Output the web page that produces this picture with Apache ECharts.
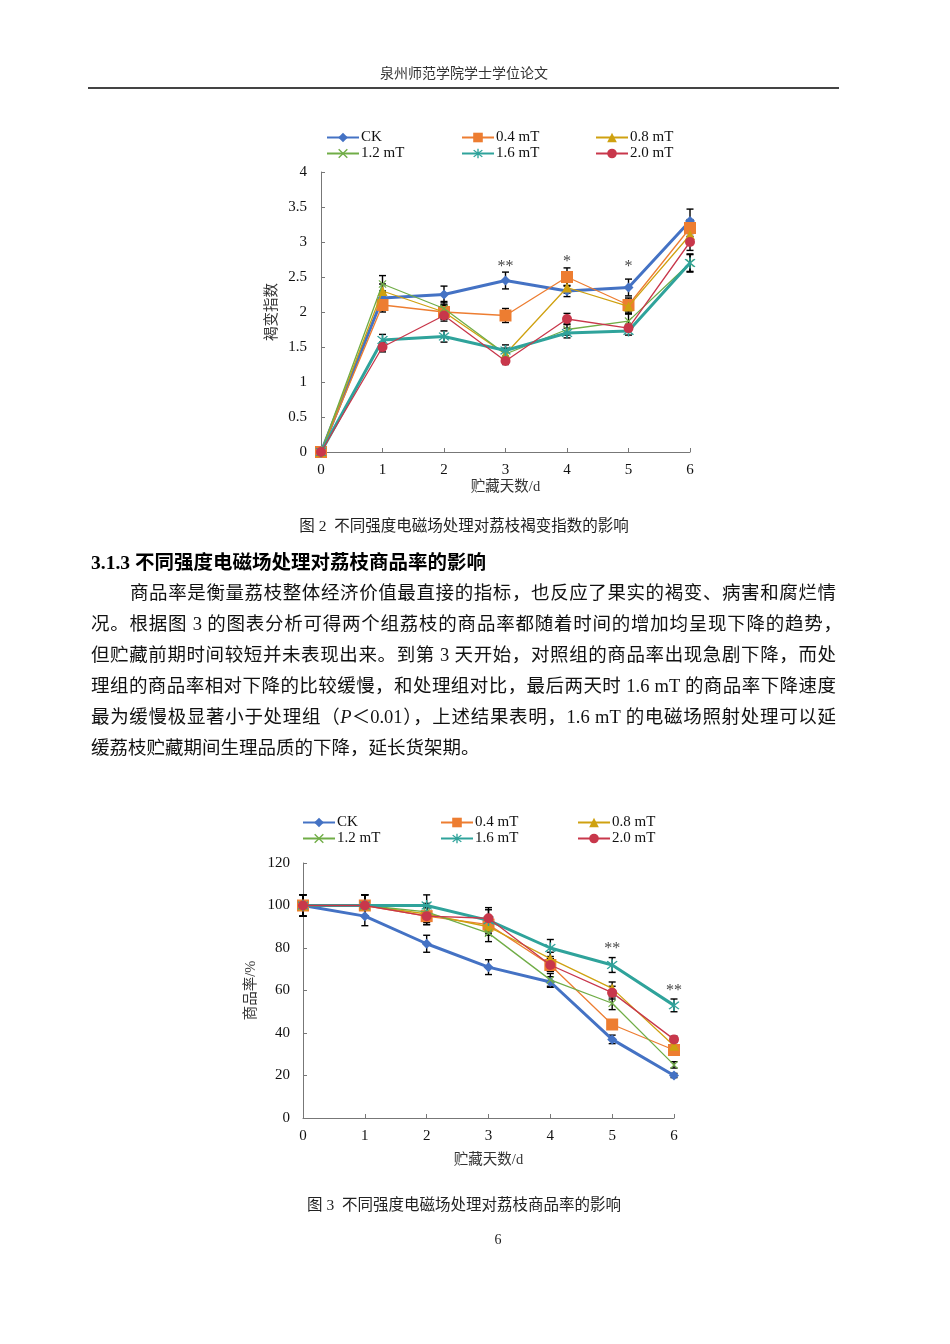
<!DOCTYPE html>
<html>
<head>
<meta charset="utf-8">
<script src="https://cdn.jsdelivr.net/npm/echarts@6/dist/echarts.min.js"></script>
<style>
  html, body { margin:0; padding:0; background:#fff; }
  #page { position:relative; width:950px; height:1344px; overflow:hidden; background:#fff;
          font-family:"Liberation Serif","Noto Sans CJK SC",serif; color:#111; }
  #chart { position:absolute; left:0; top:0; width:950px; height:1344px; }
  .t { position:absolute; white-space:nowrap; }
  .para { position:absolute; left:91px; width:745px; font-size:18.5px; line-height:31px; height:31px;
          text-align:justify; text-align-last:justify; white-space:nowrap; color:#111; }
  .cap { position:absolute; left:0; width:928px; text-align:center; font-size:15.5px; color:#222; }
</style>
</head>
<body>
<div id="page">
  <div id="chart"></div>
  <div class="t" style="left:0;width:928px;text-align:center;top:62px;font-size:14px;color:#333;">泉州师范学院学士学位论文</div>
  <div style="position:absolute;left:88px;top:87px;width:751px;height:1.5px;background:#444;"></div>
  <div class="cap" style="top:513px;">图 2&nbsp; 不同强度电磁场处理对荔枝褐变指数的影响</div>
  <div class="t" style="left:91px;top:546px;font-size:19.5px;font-weight:bold;color:#000;">3.1.3 不同强度电磁场处理对荔枝商品率的影响</div>
  <div class="para" style="top:578px;width:706px;left:130px;">商品率是衡量荔枝整体经济价值最直接的指标，也反应了果实的褐变、病害和腐烂情</div>
  <div class="para" style="top:609px;width:751px;">况。根据图 3 的图表分析可得两个组荔枝的商品率都随着时间的增加均呈现下降的趋势，</div>
  <div class="para" style="top:640px;">但贮藏前期时间较短并未表现出来。到第 3 天开始，对照组的商品率出现急剧下降，而处</div>
  <div class="para" style="top:671px;">理组的商品率相对下降的比较缓慢，和处理组对比，最后两天时 1.6 mT 的商品率下降速度</div>
  <div class="para" style="top:702px;">最为缓慢极显著小于处理组（<i>P</i>＜0.01），上述结果表明，1.6 mT 的电磁场照射处理可以延</div>
  <div class="para" style="top:733px;text-align-last:left;">缓荔枝贮藏期间生理品质的下降，延长货架期。</div>
  <div class="cap" style="top:1192px;">图 3&nbsp; 不同强度电磁场处理对荔枝商品率的影响</div>
  <div class="t" style="left:0;width:996px;text-align:center;top:1232px;font-size:14px;color:#222;">6</div>
</div>
<script>
// ---------- data ----------
const days = [0, 1, 2, 3, 4, 5, 6];
const seriesNames = ['CK', '0.4 mT', '0.8 mT', '1.2 mT', '1.6 mT', '2.0 mT'];

// Figure 2: browning index
const brown_CK   = [0, 2.2, 2.25, 2.45, 2.3, 2.35, 3.3];
const brown_04   = [0, 2.1, 2.0, 1.95, 2.5, 2.1, 3.2];
const brown_08   = [0, 2.3, 2.0, 1.4, 2.35, 2.08, 3.1];
const brown_12   = [0, 2.4, 2.05, 1.4, 1.75, 1.87, 2.7];
const brown_16   = [0, 1.6, 1.65, 1.45, 1.7, 1.73, 2.7];
const brown_20   = [0, 1.5, 1.95, 1.3, 1.9, 1.77, 3.0];
const brownErr_CK = [0, 0.1, 0.12, 0.12, 0.08, 0.12, 0.17];
const brownErr_04 = [0, 0.1, 0.1, 0.1, 0.13, 0.1, 0.12];
const brownErr_08 = [0, 0.1, 0.1, 0.08, 0.08, 0.1, 0.12];
const brownErr_12 = [0, 0.12, 0.1, 0.08, 0.08, 0.1, 0.12];
const brownErr_16 = [0, 0.08, 0.08, 0.08, 0.07, 0.06, 0.13];
const brownErr_20 = [0, 0.07, 0.08, 0.05, 0.08, 0.05, 0.12];
const brownStars = [[3, 2.65, '**'], [4, 2.72, '*'], [5, 2.65, '*']];
const brownTicks = ['0', '0.5', '1', '1.5', '2', '2.5', '3', '3.5', '4'];

// Figure 3: marketable rate (%)
const rate_CK = [100, 95, 82, 71, 64, 37, 20];
const rate_04 = [100, 100, 95, 91, 72, 44, 32];
const rate_08 = [100, 100, 96, 90, 75, 61, 34];
const rate_12 = [100, 100, 97, 87, 65, 54, 25];
const rate_16 = [100, 100, 100, 93, 80, 72, 53];
const rate_20 = [100, 100, 95, 94, 72, 59, 37];
const rateErr_CK = [5, 4.5, 4, 3.5, 2.5, 2, 1];
const rateErr_04 = [5, 5, 4, 4, 3, 2, 2];
const rateErr_08 = [5, 5, 4, 4, 3, 3, 2];
const rateErr_12 = [5, 5, 4, 4, 3, 3, 1.5];
const rateErr_16 = [5, 5, 5, 5, 4, 3.5, 3];
const rateErr_20 = [5, 5, 4, 5, 3, 3, 1.5];
const rateStars = [[5, 79.6, '**'], [6, 60, '**']];
const rateTicks = ['0', '20', '40', '60', '80', '100', '120'];

// ---------- styles ----------
const colors = ['#4472C4', '#ED7D31', '#CFA110', '#70AD47', '#2FA39B', '#C8374B'];
const widths = [3, 1.3, 1.3, 1.3, 3, 1.3];
const X_PATH = 'path://M1,0L5,4L9,0L10,1L6,5L10,9L9,10L5,6L1,10L0,9L4,5L0,1Z';
const AST_PATH = 'path://M1,0L5,4L9,0L10,1L6,5L10,9L9,10L5,6L1,10L0,9L4,5L0,1Z M4.3,-1.5L5.7,-1.5L5.7,11.5L4.3,11.5Z';
const symbols = ['diamond', 'rect', 'triangle', X_PATH, AST_PATH, 'circle'];
const symSizes = [10, 12, 10, 8, 11, 10];
const serifFont = '"Liberation Serif","Noto Sans CJK SC",serif';

function pairs(arr) { return days.map((d, i) => [d, arr[i]]); }
function errTriples(vals, errs) { return days.map((d, i) => [d, vals[i], errs[i]]); }

function errRender(params, api) {
  const x = api.value(0), y = api.value(1), e = api.value(2);
  if (!(e > 0)) return null;
  const hi = api.coord([x, y + e]), lo = api.coord([x, y - e]);
  const w = 3.5;
  const st = { stroke: '#000', lineWidth: 1.4 };
  return { type: 'group', children: [
    { type: 'line', shape: { x1: hi[0], y1: hi[1], x2: lo[0], y2: lo[1] }, style: st },
    { type: 'line', shape: { x1: hi[0] - w, y1: hi[1], x2: hi[0] + w, y2: hi[1] }, style: st },
    { type: 'line', shape: { x1: lo[0] - w, y1: lo[1], x2: lo[0] + w, y2: lo[1] }, style: st }
  ]};
}

function buildSeries(idx, valsList, errsList, stars) {
  const out = [];
  valsList.forEach((vals, k) => {
    out.push({
      type: 'custom', xAxisIndex: idx, yAxisIndex: idx, z: 3,
      renderItem: errRender, data: errTriples(vals, errsList[k]), silent: true
    });
  });
  valsList.forEach((vals, k) => {
    out.push({
      type: 'line', name: seriesNames[k], xAxisIndex: idx, yAxisIndex: idx, z: 4 + k,
      data: pairs(vals), symbol: symbols[k], symbolSize: symSizes[k], showAllSymbol: true,
      lineStyle: { color: colors[k], width: widths[k] },
      itemStyle: { color: colors[k], borderWidth: 0 },
      emphasis: { disabled: true }, animation: false
    });
  });
  out.push({
    type: 'scatter', xAxisIndex: idx, yAxisIndex: idx, z: 20, symbolSize: 1,
    itemStyle: { color: 'rgba(0,0,0,0)' }, silent: true,
    data: stars.map(s => ({ value: [s[0], s[1]], label: { formatter: s[2] } })),
    label: { show: true, position: 'inside', color: '#111', fontSize: 16, fontFamily: serifFont }
  });
  return out;
}

const axisLine = { show: true, lineStyle: { color: '#777', width: 1 } };
const axisTick = { show: true, inside: true, length: 4, lineStyle: { color: '#777' } };
const labelStyle = { color: '#111', fontSize: 15, fontFamily: serifFont };
const nameStyle = { color: '#333', fontSize: 14.5, fontFamily: serifFont };

function legends(top, chartIdx) {
  const cols = [[0, 3], [1, 4], [2, 5]];
  const lefts = chartIdx === 0 ? [321, 456, 590] : [297, 435, 572];
  return cols.map((c, j) => ({
    orient: 'vertical', left: lefts[j], top: top, itemWidth: 32, itemHeight: 12, itemGap: 1,
    data: c.map(k => seriesNames[k]), selectedMode: false,
    textStyle: { color: '#111', fontSize: 15, fontFamily: serifFont, padding: [0, 0, 0, -3] }
  }));
}

const chart = echarts.init(document.getElementById('chart'), null, { renderer: 'canvas' });
chart.setOption({
  animation: false,
  backgroundColor: 'transparent',
  legend: legends(125, 0).concat(legends(810, 1)),
  grid: [
    { left: 321, top: 172, width: 369, height: 280, containLabel: false },
    { left: 303, top: 863, width: 371, height: 255, containLabel: false }
  ],
  xAxis: [
    { type: 'value', gridIndex: 0, min: 0, max: 6, interval: 1, axisLine, axisTick,
      axisLabel: Object.assign({ margin: 11 }, labelStyle), splitLine: { show: false },
      name: '贮藏天数/d', nameLocation: 'middle', nameGap: 28, nameTextStyle: nameStyle },
    { type: 'value', gridIndex: 1, min: 0, max: 6, interval: 1, axisLine, axisTick,
      axisLabel: Object.assign({ margin: 11 }, labelStyle), splitLine: { show: false },
      name: '贮藏天数/d', nameLocation: 'middle', nameGap: 35, nameTextStyle: nameStyle }
  ],
  yAxis: [
    { type: 'value', gridIndex: 0, min: 0, max: 4, interval: 0.5, axisLine, axisTick,
      axisLabel: Object.assign({ margin: 14, formatter: (v) => brownTicks[Math.round(v / 0.5)] }, labelStyle),
      splitLine: { show: false },
      name: '褐变指数', nameLocation: 'middle', nameGap: 42, nameRotate: 90, nameTextStyle: nameStyle },
    { type: 'value', gridIndex: 1, min: 0, max: 120, interval: 20, axisLine, axisTick,
      axisLabel: Object.assign({ margin: 13, formatter: (v) => rateTicks[Math.round(v / 20)] }, labelStyle),
      splitLine: { show: false },
      name: '商品率/%', nameLocation: 'middle', nameGap: 45, nameRotate: 90, nameTextStyle: nameStyle }
  ],
  series: buildSeries(0, [brown_CK, brown_04, brown_08, brown_12, brown_16, brown_20],
                         [brownErr_CK, brownErr_04, brownErr_08, brownErr_12, brownErr_16, brownErr_20], brownStars)
    .concat(buildSeries(1, [rate_CK, rate_04, rate_08, rate_12, rate_16, rate_20],
                           [rateErr_CK, rateErr_04, rateErr_08, rateErr_12, rateErr_16, rateErr_20], rateStars))
});
</script>
</body>
</html>
